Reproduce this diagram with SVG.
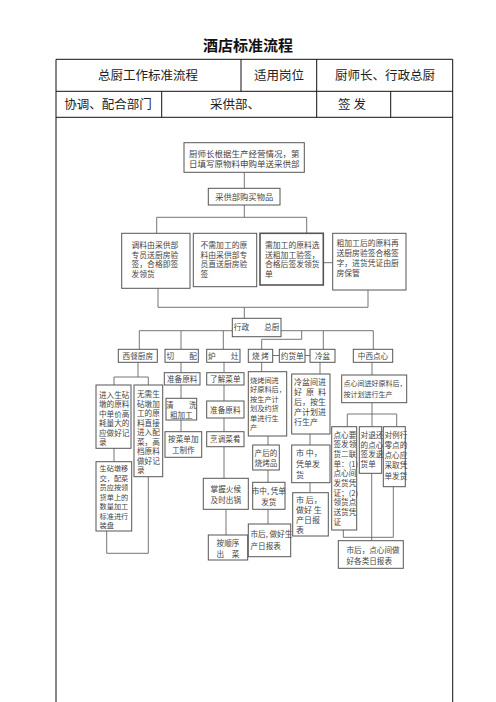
<svg xmlns="http://www.w3.org/2000/svg" width="496" height="702" viewBox="0 0 496 702">
<style>
.tb{fill:none;stroke:#111;stroke-width:1}
.bx{fill:#fff;stroke:#555;stroke-width:1}
.ln{fill:none;stroke:#666;stroke-width:0.9}
.h{font-family:"Noto Sans CJK SC","Liberation Sans",sans-serif;font-size:12.5px;fill:#222}
.ti{font-family:"Noto Sans CJK SC","Liberation Sans",sans-serif;font-size:15px;font-weight:bold;fill:#111}
.f{font-family:"Noto Sans CJK SC","Liberation Sans",sans-serif;font-size:7.6px;fill:#444}
.m{text-anchor:middle}
</style>
<rect width="496" height="702" fill="#fff"/>
<g id="header">
<text class="ti m" x="248" y="51">酒店标准流程</text>
<path class="tb" d="M56 59.3H452.7M56 91.3H452.7M56 117.3H452.7M56 59.3V702M452.7 59.3V702M241 59.3V91.3M316.7 59.3V117.3M161.7 91.3V117.3M390.7 91.3V117.3"/>
<text class="h m" x="148" y="79.5">总厨工作标准流程</text>
<text class="h m" x="279" y="79.5">适用岗位</text>
<text class="h m" x="385" y="79.5">厨师长、行政总厨</text>
<text class="h m" x="108" y="108.5">协调、配合部门</text>
<text class="h m" x="235" y="108.5">采供部、</text>
<text class="h m" x="352" y="108.5">签  发</text>
</g>
<g id="connectors">
<path class="ln" d="M244.3 172.3V188.3M244.3 205V217.3M156.7 217.3H306.7M156.7 217.3V233.3M306.7 217.3V233.3M323.3 262.7H332.7M158 288.3V307.3M368 290V307.3M158 307.3H368M244.3 307.3V318.3"/>
<path class="ln" d="M232.3 330.7H139.3V349.3M181 330.7V349.3M223.3 330.7V349.3M281 330.7H373.3V349.3M301.7 330.7V339.3H261.7V349.3M323.3 330.7V349.3M272.7 355.5H279.3M305 355.5H310"/>
<path class="ln" d="M138 362V377M114 377H148.3M114 377V385M148.3 377V385M114 448.3V461.7M106.7 531V553.3H148.3V476.7"/>
<path class="ln" d="M181 362V372.7M181 385V398.3M181 420V431.7"/>
<path class="ln" d="M224 362V372.7M224 385V401M224 418V431.7M224 446.7V478.3M226 509.3V535"/>
<path class="ln" d="M261.7 362V371.7M268 436V445M268 470V482.3M268 509.3V524"/>
<path class="ln" d="M320 362V374M310 434V445M310 482.7V492.7"/>
<path class="ln" d="M372 362V375M372 402.7V426.7M347.3 414H396.7M347.3 414V426.7M396.7 414V426.7M343.3 530V537.3H393.3V486.7M371.7 473.3V540.7"/>
</g>
<g id="n-start"><rect class="bx" x="184" y="142.7" width="120.3" height="29.6"/>
<text class="f" x="189" y="156.5" style="font-size:8.5px">厨师长根据生产经营情况，第<tspan x="189" y="167">日填写原物料申购单送采供部</tspan></text></g>
<g id="n-buy"><rect class="bx" x="208.3" y="188.3" width="71.7" height="16.7"/>
<text class="f m" x="244.2" y="199.8" style="font-size:8.3px">采供部购买物品</text></g>
<g id="n-p1"><rect class="bx" x="121.7" y="233.3" width="68.3" height="55"/>
<text class="f" x="131.5" y="248" style="font-size:7.8px">调料由采供部<tspan x="131.5" y="257.5">专员送厨房验</tspan><tspan x="131.5" y="267">签，合格即签</tspan><tspan x="131.5" y="276.5">发领货</tspan></text></g>
<g id="n-p2"><rect class="bx" x="193.3" y="233.3" width="63.4" height="53.4"/>
<text class="f" x="200.5" y="248" style="font-size:7.8px">不需加工的原<tspan x="200.5" y="257.5">料由采供部专</tspan><tspan x="200.5" y="267">员直送厨房验</tspan><tspan x="200.5" y="276.5">签</tspan></text></g>
<g id="n-p3"><rect class="bx" x="260" y="233.3" width="63.3" height="51.7" style="stroke-width:1.6"/>
<text class="f" x="265" y="248" style="font-size:7.8px">需加工的原料选<tspan x="265" y="257.5">送粗加工验签，</tspan><tspan x="265" y="267">合格后签发领货</tspan><tspan x="265" y="276.5">单</tspan></text></g>
<g id="n-p4"><rect class="bx" x="332.7" y="233.3" width="73.3" height="56.7"/>
<text class="f" x="336.5" y="246" style="font-size:7.8px">粗加工后的原料再<tspan x="336.5" y="256">送厨房验签合格签</tspan><tspan x="336.5" y="266">字，进货凭证由厨</tspan><tspan x="336.5" y="276">房保管</tspan></text></g>
<g id="n-chef"><rect class="bx" x="232.3" y="318.3" width="48.7" height="18.4"/>
<text class="f m" x="256.6" y="330.3">行政　　总厨</text></g>
<g id="n-west"><rect class="bx" x="118.3" y="349.3" width="39" height="13"/><text class="f m" x="137.8" y="359">西餐厨房</text></g>
<g id="n-cut"><rect class="bx" x="165" y="349.3" width="33.3" height="13"/><text class="f m" x="181.6" y="359">切　　配</text></g>
<g id="n-stove"><rect class="bx" x="206.7" y="349.3" width="33.3" height="13"/><text class="f m" x="223.3" y="359">炉　　灶</text></g>
<g id="n-bbq"><rect class="bx" x="248.3" y="349.3" width="24.4" height="13"/><text class="f m" x="260.5" y="359">烧 烤</text></g>
<g id="n-order"><rect class="bx" x="279.3" y="349.3" width="25.7" height="13"/><text class="f m" x="292.2" y="359">约货单</text></g>
<g id="n-cold"><rect class="bx" x="310" y="349.3" width="25" height="13"/><text class="f m" x="322.5" y="359">冷盆</text></g>
<g id="n-pastry"><rect class="bx" x="353.3" y="349.3" width="39.4" height="13"/><text class="f m" x="373" y="359">中西点心</text></g>
<g id="n-w1"><rect class="bx" x="96" y="385" width="35" height="63.3"/>
<text class="f" x="99" y="397.5">进入生砧<tspan x="99" y="407">墩的原料</tspan><tspan x="99" y="416.5">中单价高</tspan><tspan x="99" y="426">耗量大的</tspan><tspan x="99" y="435.5">应做好记</tspan><tspan x="99" y="445">录</tspan></text></g>
<g id="n-w2"><rect class="bx" x="134" y="385" width="28.7" height="91.7"/>
<text class="f" x="137" y="397">无需生<tspan x="137" y="406.5">砧墩加</tspan><tspan x="137" y="416">工的原</tspan><tspan x="137" y="425.5">料直接</tspan><tspan x="137" y="435">进入配</tspan><tspan x="137" y="444.5">菜，高</tspan><tspan x="137" y="454">档原料</tspan><tspan x="137" y="463.5">做好记</tspan><tspan x="137" y="473">录</tspan></text></g>
<g id="n-w3"><rect class="bx" x="96" y="461.7" width="35.7" height="69.3"/>
<text class="f" x="99.5" y="471" style="font-size:7.2px">生砧墩移<tspan x="99.5" y="480.5">交，配菜</tspan><tspan x="99.5" y="490">员应按领</tspan><tspan x="99.5" y="499.5">货单上的</tspan><tspan x="99.5" y="509">数量加工</tspan><tspan x="99.5" y="518.5">标准进行</tspan><tspan x="99.5" y="528">装盘</tspan></text></g>
<g id="n-c1"><rect class="bx" x="164.3" y="372.7" width="35.7" height="12.3"/><text class="f m" x="182.2" y="382">准备原料</text></g>
<g id="n-c2"><rect class="bx" x="166" y="398.3" width="30.7" height="21.7"/>
<text class="f m" x="181.3" y="407.5">清　　洗<tspan x="181.3" y="417.5">粗加工</tspan></text></g>
<g id="n-c3"><rect class="bx" x="165" y="431.7" width="36.7" height="25.6"/>
<text class="f m" x="183.3" y="442">按菜单加<tspan x="183.3" y="452.5">工制作</tspan></text></g>
<g id="n-s1"><rect class="bx" x="206.7" y="372.7" width="37.3" height="12.3"/><text class="f m" x="225.3" y="382">了解菜单</text></g>
<g id="n-s2"><rect class="bx" x="206.7" y="401" width="37.3" height="17"/><text class="f m" x="225.3" y="412.5">准备原料</text></g>
<g id="n-s3"><rect class="bx" x="206.7" y="431.7" width="37.3" height="15"/><text class="f m" x="225.3" y="442">烹调菜肴</text></g>
<g id="n-s4"><rect class="bx" x="203.3" y="478.3" width="45" height="31"/>
<text class="f m" x="225.8" y="491.5">掌握火候<tspan x="225.8" y="503">及时出锅</tspan></text></g>
<g id="n-s5"><rect class="bx" x="208.3" y="535" width="39.4" height="25"/>
<text class="f m" x="228" y="546">按顺序<tspan x="228" y="557">出　菜</tspan></text></g>
<g id="n-b1"><rect class="bx" x="248.3" y="371.7" width="38.4" height="64.3"/>
<text class="f" x="250" y="382.5" style="font-size:7.2px">烧烤间进<tspan x="250" y="392">好原料后，</tspan><tspan x="250" y="401.5">按生产计</tspan><tspan x="250" y="411">划及约货</tspan><tspan x="250" y="420.5">单进行生</tspan><tspan x="250" y="430">产</tspan></text></g>
<g id="n-b2"><rect class="bx" x="252.7" y="445" width="26.6" height="25"/>
<text class="f m" x="266" y="455.5">产后的<tspan x="266" y="465.5">烧烤品</tspan></text></g>
<g id="n-b3"><rect class="bx" x="252.7" y="482.3" width="32.3" height="27"/>
<text class="f m" x="268.8" y="494">市中, 凭单<tspan x="268.8" y="505">发货</tspan></text></g>
<g id="n-b4"><rect class="bx" x="248.3" y="524" width="42.4" height="32.7"/>
<text class="f" x="250.5" y="537">市后, 做好生<tspan x="250.5" y="549">产日报表</tspan></text></g>
<g id="n-k1"><rect class="bx" x="291.7" y="374" width="38.3" height="60"/>
<text class="f" x="294" y="384.5" style="font-size:8px">冷盆间进</text>
<text class="f" x="294" y="394.5" style="font-size:8px" textLength="32" lengthAdjust="spacing">好原料</text>
<text class="f" x="294" y="404.5" style="font-size:8px">后，按生<tspan x="294" y="414.5">产计划进</tspan><tspan x="294" y="424.5">行生产</tspan></text></g>
<g id="n-k2"><rect class="bx" x="291.7" y="445" width="38.3" height="37.7"/>
<text class="f" x="296" y="456" style="font-size:8px">市 中，<tspan x="296" y="467">凭单发</tspan><tspan x="296" y="478">货</tspan></text></g>
<g id="n-k3"><rect class="bx" x="292.7" y="492.7" width="35.6" height="43.3"/>
<text class="f" x="296" y="503" style="font-size:8px">市 后，<tspan x="296" y="513">做好 生</tspan><tspan x="296" y="523">产日报</tspan><tspan x="296" y="533">表</tspan></text></g>
<g id="n-d1"><rect class="bx" x="341.7" y="375" width="65" height="27.7"/>
<text class="f" x="343.5" y="386" style="font-size:7px">点心间进好原料后，<tspan x="343.5" y="397">按计划进行生产</tspan></text></g>
<g id="n-d2"><rect class="bx" x="331.7" y="426.7" width="25" height="103.3"/>
<text class="f" x="333.5" y="437.5">点心要<tspan x="333.5" y="447.2">签发领</tspan><tspan x="333.5" y="456.9">货二联</tspan><tspan x="333.5" y="466.6">单：(1)</tspan><tspan x="333.5" y="476.3">点心间</tspan><tspan x="333.5" y="486">发货凭</tspan><tspan x="333.5" y="495.7">证；(2)</tspan><tspan x="333.5" y="505.4">领货点</tspan><tspan x="333.5" y="515.1">送货凭</tspan><tspan x="333.5" y="524.8">证</tspan></text></g>
<g id="n-d3"><rect class="bx" x="359.3" y="426.7" width="22.4" height="46.6"/>
<text class="f" x="360.6" y="438">对退还<tspan x="360.6" y="447.5">的点心</tspan><tspan x="360.6" y="457">签发退</tspan><tspan x="360.6" y="466.5">货单</tspan></text></g>
<g id="n-d4"><rect class="bx" x="383.3" y="426.7" width="22" height="60"/>
<text class="f" x="384.5" y="438">对例行<tspan x="384.5" y="448">零点的</tspan><tspan x="384.5" y="458">点心应</tspan><tspan x="384.5" y="468">采取凭</tspan><tspan x="384.5" y="478.5">单发货</tspan></text></g>
<g id="n-d5"><rect class="bx" x="338.3" y="540.7" width="65" height="27.6"/>
<text class="f" x="346.5" y="552.5">市后，点心间做<tspan x="346.5" y="563.5">好各类日报表</tspan></text></g>
</svg>
